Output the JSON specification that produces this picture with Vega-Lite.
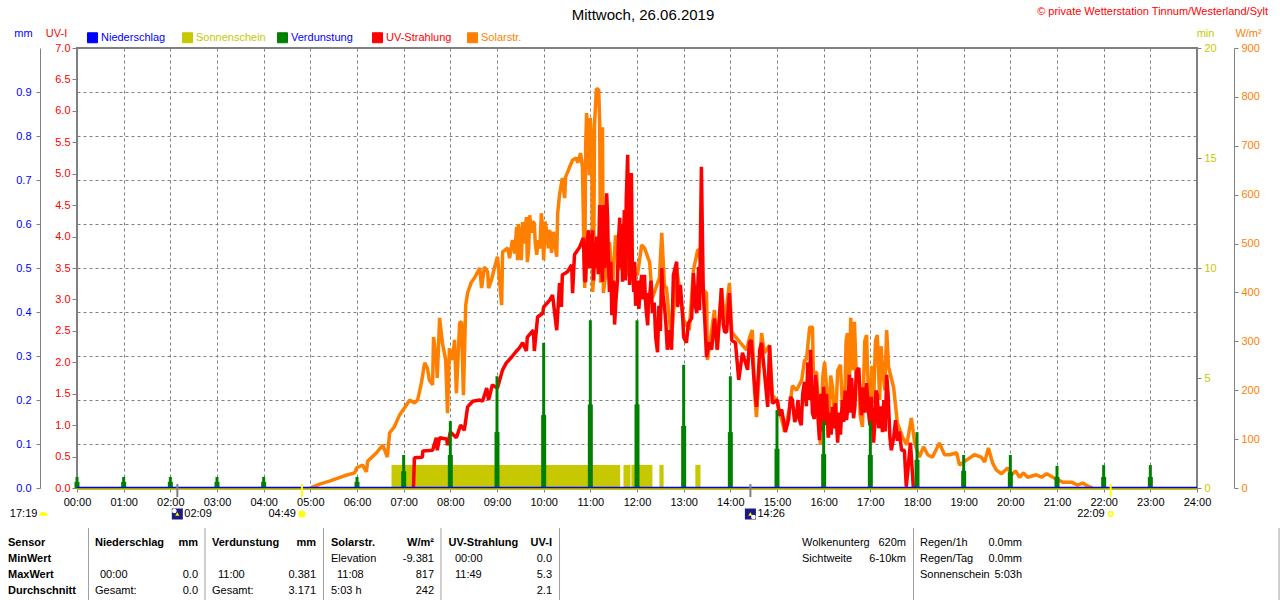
{
  "$schema": "https://vega.github.io/schema/vega-lite/v6.json",
  "autosize": "none",
  "width": 1120,
  "height": 440,
  "padding": {"left": 77, "top": 48, "right": 83, "bottom": 112},
  "background": "white",
  "title": {"text": "Mittwoch, 26.06.2019", "fontSize": 15, "fontWeight": "normal", "color": "#000000", "anchor": "middle", "frame": "group", "dx": 6, "offset": -17},
  "config": {
    "font": "Liberation Sans",
    "view": {"stroke": "#808080", "strokeWidth": 2},
    "axis": {"labelFontSize": 11, "titleFontSize": 11, "titleFontWeight": "normal", "tickColor": "#808080", "domainColor": "#808080", "gridColor": "#808080", "gridDash": [3, 3], "gridOpacity": 1, "labelFlush": false, "labelOverlap": false}
  },
  "datasets": {
    "solar": [
      {"h":5.00,"w":0},{"h":5.20,"w":8},{"h":5.41,"w":14},{"h":5.73,"w":25},{"h":5.95,"w":31},{"h":5.99,"w":41},{"h":6.12,"w":47},{"h":6.20,"w":33},{"h":6.23,"w":55},{"h":6.42,"w":72},{"h":6.55,"w":88},{"h":6.65,"w":63},{"h":6.70,"w":113},{"h":6.80,"w":125},{"h":6.91,"w":149},{"h":7.02,"w":164},{"h":7.13,"w":180},{"h":7.23,"w":174},{"h":7.30,"w":180},{"h":7.38,"w":215},{"h":7.45,"w":256},{"h":7.51,"w":245},{"h":7.55,"w":221},{"h":7.62,"w":211},{"h":7.64,"w":309},{"h":7.70,"w":262},{"h":7.72,"w":225},{"h":7.77,"w":348},{"h":7.83,"w":297},{"h":7.90,"w":262},{"h":7.94,"w":153},{"h":7.98,"w":286},{"h":8.05,"w":262},{"h":8.09,"w":303},{"h":8.13,"w":194},{"h":8.20,"w":338},{"h":8.24,"w":340},{"h":8.28,"w":190},{"h":8.33,"w":374},{"h":8.37,"w":399},{"h":8.45,"w":421},{"h":8.52,"w":430},{"h":8.63,"w":450},{"h":8.67,"w":409},{"h":8.73,"w":452},{"h":8.80,"w":442},{"h":8.82,"w":409},{"h":8.88,"w":425},{"h":8.95,"w":452},{"h":9.01,"w":473},{"h":9.10,"w":374},{"h":9.12,"w":483},{"h":9.23,"w":491},{"h":9.27,"w":470},{"h":9.33,"w":507},{"h":9.38,"w":480},{"h":9.42,"w":534},{"h":9.44,"w":466},{"h":9.46,"w":540},{"h":9.48,"w":522},{"h":9.52,"w":466},{"h":9.55,"w":544},{"h":9.58,"w":500},{"h":9.63,"w":554},{"h":9.65,"w":462},{"h":9.68,"w":490},{"h":9.70,"w":558},{"h":9.74,"w":522},{"h":9.76,"w":545},{"h":9.80,"w":542},{"h":9.82,"w":501},{"h":9.85,"w":477},{"h":9.89,"w":507},{"h":9.92,"w":490},{"h":9.95,"w":562},{"h":9.97,"w":540},{"h":10.00,"w":466},{"h":10.03,"w":545},{"h":10.06,"w":528},{"h":10.10,"w":490},{"h":10.13,"w":528},{"h":10.17,"w":481},{"h":10.21,"w":524},{"h":10.24,"w":500},{"h":10.28,"w":473},{"h":10.30,"w":562},{"h":10.34,"w":599},{"h":10.40,"w":634},{"h":10.45,"w":593},{"h":10.47,"w":636},{"h":10.55,"w":655},{"h":10.62,"w":671},{"h":10.70,"w":675},{"h":10.73,"w":665},{"h":10.79,"w":685},{"h":10.83,"w":657},{"h":10.88,"w":409},{"h":10.90,"w":700},{"h":10.92,"w":767},{"h":10.94,"w":716},{"h":10.98,"w":640},{"h":11.00,"w":757},{"h":11.03,"w":700},{"h":11.05,"w":401},{"h":11.07,"w":430},{"h":11.09,"w":743},{"h":11.13,"w":817},{"h":11.18,"w":814},{"h":11.20,"w":747},{"h":11.22,"w":420},{"h":11.24,"w":720},{"h":11.26,"w":738},{"h":11.28,"w":399},{"h":11.41,"w":503},{"h":11.48,"w":415},{"h":11.54,"w":517},{"h":11.63,"w":446},{"h":11.73,"w":528},{"h":11.80,"w":436},{"h":12.01,"w":436},{"h":12.10,"w":497},{"h":12.16,"w":491},{"h":12.27,"w":462},{"h":12.33,"w":389},{"h":12.48,"w":430},{"h":12.53,"w":522},{"h":12.59,"w":411},{"h":12.63,"w":411},{"h":12.70,"w":338},{"h":12.74,"w":303},{"h":12.85,"w":450},{"h":13.00,"w":344},{"h":13.12,"w":323},{"h":13.21,"w":446},{"h":13.30,"w":487},{"h":13.34,"w":487},{"h":13.42,"w":405},{"h":13.49,"w":399},{"h":13.51,"w":262},{"h":13.66,"w":364},{"h":13.72,"w":282},{"h":13.81,"w":409},{"h":13.88,"w":338},{"h":13.98,"w":419},{"h":14.03,"w":319},{"h":14.20,"w":299},{"h":14.35,"w":282},{"h":14.41,"w":307},{"h":14.47,"w":323},{"h":14.52,"w":194},{"h":14.56,"w":145},{"h":14.67,"w":317},{"h":14.73,"w":276},{"h":14.84,"w":292},{"h":14.90,"w":190},{"h":14.99,"w":180},{"h":15.12,"w":133},{"h":15.16,"w":115},{"h":15.27,"w":164},{"h":15.33,"w":209},{"h":15.42,"w":200},{"h":15.53,"w":221},{"h":15.59,"w":262},{"h":15.63,"w":262},{"h":15.70,"w":329},{"h":15.76,"w":329},{"h":15.78,"w":235},{"h":15.85,"w":237},{"h":15.93,"w":88},{"h":15.98,"w":227},{"h":16.02,"w":258},{"h":16.06,"w":207},{"h":16.10,"w":104},{"h":16.15,"w":230},{"h":16.19,"w":207},{"h":16.22,"w":165},{"h":16.25,"w":125},{"h":16.30,"w":240},{"h":16.36,"w":252},{"h":16.40,"w":170},{"h":16.45,"w":166},{"h":16.48,"w":300},{"h":16.51,"w":317},{"h":16.55,"w":200},{"h":16.58,"w":348},{"h":16.62,"w":241},{"h":16.66,"w":340},{"h":16.70,"w":227},{"h":16.75,"w":245},{"h":16.78,"w":150},{"h":16.83,"w":125},{"h":16.88,"w":300},{"h":16.92,"w":313},{"h":16.94,"w":241},{"h":16.97,"w":180},{"h":17.00,"w":139},{"h":17.03,"w":250},{"h":17.07,"w":174},{"h":17.11,"w":300},{"h":17.15,"w":313},{"h":17.20,"w":180},{"h":17.23,"w":290},{"h":17.26,"w":248},{"h":17.31,"w":200},{"h":17.35,"w":323},{"h":17.39,"w":248},{"h":17.50,"w":205},{"h":17.58,"w":133},{"h":17.69,"w":104},{"h":17.78,"w":88},{"h":17.88,"w":143},{"h":17.95,"w":92},{"h":18.05,"w":63},{"h":18.14,"w":84},{"h":18.23,"w":68},{"h":18.33,"w":63},{"h":18.48,"w":92},{"h":18.59,"w":68},{"h":18.70,"w":68},{"h":18.85,"w":72},{"h":18.91,"w":47},{"h":19.06,"w":57},{"h":19.23,"w":68},{"h":19.38,"w":63},{"h":19.45,"w":53},{"h":19.53,"w":82},{"h":19.62,"w":51},{"h":19.70,"w":37},{"h":19.81,"w":29},{"h":19.94,"w":41},{"h":20.03,"w":27},{"h":20.11,"w":35},{"h":20.20,"w":22},{"h":20.28,"w":31},{"h":20.37,"w":22},{"h":20.56,"w":27},{"h":20.67,"w":22},{"h":20.78,"w":29},{"h":20.95,"w":20},{"h":21.12,"w":12},{"h":21.31,"w":12},{"h":21.44,"w":6},{"h":21.55,"w":10},{"h":21.70,"w":2},{"h":21.76,"w":0}
    ],
    "uv": [
      {"h":7.21,"i":0},{"h":7.23,"i":0.48},{"h":7.40,"i":0.49},{"h":7.41,"i":0.59},{"h":7.62,"i":0.60},{"h":7.70,"i":0.80},{"h":7.72,"i":0.60},{"h":7.77,"i":0.80},{"h":7.92,"i":0.78},{"h":7.94,"i":0.68},{"h":8.00,"i":0.89},{"h":8.13,"i":0.80},{"h":8.22,"i":1.00},{"h":8.30,"i":0.92},{"h":8.37,"i":1.29},{"h":8.48,"i":1.38},{"h":8.63,"i":1.40},{"h":8.69,"i":1.38},{"h":8.78,"i":1.59},{"h":8.82,"i":1.40},{"h":8.90,"i":1.64},{"h":9.01,"i":1.59},{"h":9.12,"i":1.88},{"h":9.20,"i":1.99},{"h":9.31,"i":2.08},{"h":9.42,"i":2.18},{"h":9.48,"i":2.23},{"h":9.55,"i":2.31},{"h":9.63,"i":2.18},{"h":9.65,"i":2.40},{"h":9.78,"i":2.51},{"h":9.80,"i":2.18},{"h":9.87,"i":2.72},{"h":9.98,"i":2.78},{"h":10.00,"i":2.88},{"h":10.13,"i":2.99},{"h":10.19,"i":3.07},{"h":10.28,"i":2.51},{"h":10.34,"i":3.26},{"h":10.38,"i":2.88},{"h":10.40,"i":3.39},{"h":10.51,"i":3.44},{"h":10.60,"i":3.55},{"h":10.62,"i":3.10},{"h":10.66,"i":3.71},{"h":10.77,"i":3.83},{"h":10.85,"i":3.98},{"h":10.88,"i":3.30},{"h":10.90,"i":3.28},{"h":10.93,"i":3.90},{"h":10.96,"i":4.10},{"h":10.99,"i":3.50},{"h":11.01,"i":4.05},{"h":11.03,"i":3.60},{"h":11.05,"i":4.10},{"h":11.07,"i":3.30},{"h":11.09,"i":3.90},{"h":11.11,"i":3.50},{"h":11.14,"i":4.00},{"h":11.17,"i":3.40},{"h":11.20,"i":4.50},{"h":11.23,"i":3.70},{"h":11.26,"i":3.28},{"h":11.28,"i":4.50},{"h":11.31,"i":3.50},{"h":11.33,"i":4.30},{"h":11.35,"i":4.69},{"h":11.37,"i":4.30},{"h":11.39,"i":3.50},{"h":11.41,"i":3.12},{"h":11.44,"i":3.60},{"h":11.46,"i":2.75},{"h":11.48,"i":2.88},{"h":11.50,"i":3.30},{"h":11.52,"i":2.60},{"h":11.55,"i":3.00},{"h":11.58,"i":3.28},{"h":11.60,"i":3.90},{"h":11.63,"i":4.30},{"h":11.65,"i":3.50},{"h":11.67,"i":4.20},{"h":11.69,"i":3.28},{"h":11.71,"i":4.00},{"h":11.73,"i":4.42},{"h":11.75,"i":3.30},{"h":11.77,"i":4.60},{"h":11.80,"i":5.30},{"h":11.82,"i":4.20},{"h":11.84,"i":3.23},{"h":11.86,"i":4.30},{"h":11.88,"i":5.01},{"h":11.90,"i":3.60},{"h":11.93,"i":3.12},{"h":11.95,"i":3.60},{"h":11.97,"i":2.90},{"h":11.99,"i":3.02},{"h":12.02,"i":3.30},{"h":12.04,"i":2.85},{"h":12.07,"i":3.20},{"h":12.10,"i":3.39},{"h":12.13,"i":3.00},{"h":12.16,"i":3.39},{"h":12.18,"i":3.00},{"h":12.20,"i":2.80},{"h":12.23,"i":2.59},{"h":12.25,"i":3.10},{"h":12.27,"i":3.04},{"h":12.30,"i":3.30},{"h":12.33,"i":2.78},{"h":12.37,"i":2.95},{"h":12.40,"i":2.40},{"h":12.44,"i":2.16},{"h":12.47,"i":2.90},{"h":12.50,"i":2.50},{"h":12.53,"i":3.50},{"h":12.56,"i":3.05},{"h":12.59,"i":2.88},{"h":12.62,"i":2.60},{"h":12.65,"i":2.20},{"h":12.70,"i":2.51},{"h":12.74,"i":2.20},{"h":12.78,"i":3.39},{"h":12.85,"i":3.60},{"h":12.87,"i":2.88},{"h":12.93,"i":3.23},{"h":12.98,"i":2.70},{"h":13.00,"i":2.40},{"h":13.06,"i":2.31},{"h":13.10,"i":2.62},{"h":13.17,"i":2.70},{"h":13.21,"i":3.42},{"h":13.25,"i":2.90},{"h":13.28,"i":2.78},{"h":13.32,"i":3.52},{"h":13.34,"i":2.83},{"h":13.38,"i":5.11},{"h":13.42,"i":3.12},{"h":13.45,"i":2.70},{"h":13.49,"i":2.08},{"h":13.55,"i":2.32},{"h":13.60,"i":2.20},{"h":13.66,"i":2.70},{"h":13.72,"i":2.20},{"h":13.77,"i":2.75},{"h":13.81,"i":3.18},{"h":13.85,"i":2.60},{"h":13.88,"i":2.48},{"h":13.92,"i":2.48},{"h":13.98,"i":3.10},{"h":14.03,"i":2.35},{"h":14.11,"i":2.31},{"h":14.18,"i":1.72},{"h":14.26,"i":2.15},{"h":14.37,"i":1.88},{"h":14.41,"i":2.32},{"h":14.45,"i":2.35},{"h":14.50,"i":1.80},{"h":14.56,"i":1.29},{"h":14.63,"i":2.20},{"h":14.67,"i":2.31},{"h":14.73,"i":1.85},{"h":14.80,"i":1.29},{"h":14.84,"i":2.27},{"h":14.90,"i":1.35},{"h":15.01,"i":1.40},{"h":15.05,"i":1.15},{"h":15.10,"i":1.25},{"h":15.18,"i":0.89},{"h":15.25,"i":1.10},{"h":15.29,"i":1.45},{"h":15.33,"i":1.40},{"h":15.38,"i":1.05},{"h":15.42,"i":1.16},{"h":15.45,"i":1.40},{"h":15.48,"i":1.08},{"h":15.52,"i":1.00},{"h":15.55,"i":1.50},{"h":15.59,"i":1.69},{"h":15.63,"i":1.30},{"h":15.66,"i":2.00},{"h":15.69,"i":1.40},{"h":15.72,"i":2.20},{"h":15.74,"i":1.60},{"h":15.76,"i":1.19},{"h":15.80,"i":1.10},{"h":15.82,"i":1.80},{"h":15.85,"i":1.61},{"h":15.88,"i":1.10},{"h":15.91,"i":0.76},{"h":15.94,"i":1.50},{"h":15.97,"i":0.90},{"h":16.00,"i":1.61},{"h":16.03,"i":1.00},{"h":16.06,"i":1.50},{"h":16.10,"i":0.80},{"h":16.13,"i":1.20},{"h":16.16,"i":0.85},{"h":16.19,"i":1.29},{"h":16.22,"i":0.95},{"h":16.25,"i":1.35},{"h":16.30,"i":0.72},{"h":16.33,"i":1.20},{"h":16.36,"i":0.85},{"h":16.40,"i":1.40},{"h":16.43,"i":1.05},{"h":16.46,"i":1.55},{"h":16.49,"i":1.08},{"h":16.52,"i":1.30},{"h":16.55,"i":1.80},{"h":16.58,"i":1.20},{"h":16.60,"i":1.75},{"h":16.64,"i":1.11},{"h":16.67,"i":1.30},{"h":16.70,"i":1.85},{"h":16.75,"i":1.91},{"h":16.78,"i":1.50},{"h":16.81,"i":1.16},{"h":16.84,"i":1.60},{"h":16.88,"i":1.20},{"h":16.92,"i":1.67},{"h":16.96,"i":1.21},{"h":16.99,"i":1.00},{"h":17.02,"i":1.45},{"h":17.07,"i":0.72},{"h":17.10,"i":1.05},{"h":17.12,"i":1.55},{"h":17.15,"i":1.48},{"h":17.18,"i":0.95},{"h":17.22,"i":1.30},{"h":17.26,"i":0.89},{"h":17.29,"i":1.40},{"h":17.32,"i":0.90},{"h":17.35,"i":1.80},{"h":17.38,"i":1.50},{"h":17.42,"i":0.80},{"h":17.45,"i":0.60},{"h":17.50,"i":0.80},{"h":17.54,"i":1.08},{"h":17.58,"i":0.75},{"h":17.62,"i":0.90},{"h":17.67,"i":0.60},{"h":17.73,"i":0.60},{"h":17.77,"i":0.02},{"h":17.86,"i":0.72},{"h":17.92,"i":0.02},{"h":17.97,"i":0}
    ],
    "verdunstung": [
      {"h":0,"mm":0.025,"art":"spitze"},{"h":0,"mm":0.014,"art":"sockel"},{"h":1,"mm":0.025,"art":"spitze"},{"h":1,"mm":0.014,"art":"sockel"},{"h":2,"mm":0.025,"art":"spitze"},{"h":2,"mm":0.014,"art":"sockel"},{"h":3,"mm":0.025,"art":"spitze"},{"h":3,"mm":0.014,"art":"sockel"},{"h":4,"mm":0.025,"art":"spitze"},{"h":4,"mm":0.014,"art":"sockel"},{"h":6,"mm":0.025,"art":"spitze"},{"h":6,"mm":0.014,"art":"sockel"},{"h":7,"mm":0.075,"art":"spitze"},{"h":7,"mm":0.038,"art":"sockel"},{"h":8,"mm":0.152,"art":"spitze"},{"h":8,"mm":0.075,"art":"sockel"},{"h":9,"mm":0.254,"art":"spitze"},{"h":9,"mm":0.127,"art":"sockel"},{"h":10,"mm":0.33,"art":"spitze"},{"h":10,"mm":0.166,"art":"sockel"},{"h":11,"mm":0.381,"art":"spitze"},{"h":11,"mm":0.19,"art":"sockel"},{"h":12,"mm":0.381,"art":"spitze"},{"h":12,"mm":0.19,"art":"sockel"},{"h":13,"mm":0.28,"art":"spitze"},{"h":13,"mm":0.141,"art":"sockel"},{"h":14,"mm":0.254,"art":"spitze"},{"h":14,"mm":0.127,"art":"sockel"},{"h":15,"mm":0.177,"art":"spitze"},{"h":15,"mm":0.089,"art":"sockel"},{"h":16,"mm":0.152,"art":"spitze"},{"h":16,"mm":0.077,"art":"sockel"},{"h":17,"mm":0.152,"art":"spitze"},{"h":17,"mm":0.075,"art":"sockel"},{"h":18,"mm":0.127,"art":"spitze"},{"h":18,"mm":0.064,"art":"sockel"},{"h":19,"mm":0.075,"art":"spitze"},{"h":19,"mm":0.039,"art":"sockel"},{"h":20,"mm":0.075,"art":"spitze"},{"h":20,"mm":0.036,"art":"sockel"},{"h":21,"mm":0.05,"art":"spitze"},{"h":21,"mm":0.025,"art":"sockel"},{"h":22,"mm":0.052,"art":"spitze"},{"h":22,"mm":0.025,"art":"sockel"},{"h":23,"mm":0.052,"art":"spitze"},{"h":23,"mm":0.025,"art":"sockel"}
    ],
    "sonne": [
      {"von":6.74,"bis":11.64,"min":1.05},{"von":11.71,"bis":11.86,"min":1.05},{"von":11.88,"bis":12.33,"min":1.05},{"von":12.48,"bis":12.57,"min":1.05},{"von":13.25,"bis":13.36,"min":1.05}
    ],
    "astro": [
      {"h":-0.72,"zeit":"17:19","typ":"Tag"},{"h":2.15,"zeit":"02:09","typ":"Mond"},{"h":4.82,"zeit":"04:49","typ":"Aufgang"},{"h":14.43,"zeit":"14:26","typ":"Mond"},{"h":22.15,"zeit":"22:09","typ":"Untergang"}
    ],
    "tabelle": [
      {"col":17,"row":0,"text":"© private Wetterstation Tinnum/Westerland/Sylt"},
      {"col":0,"row":1,"text":"Sensor"},{"col":1,"row":1,"text":"Niederschlag"},{"col":3,"row":1,"text":"mm"},{"col":4,"row":1,"text":"Verdunstung"},{"col":6,"row":1,"text":"mm"},{"col":7,"row":1,"text":"Solarstr."},{"col":9,"row":1,"text":"W/m²"},{"col":10,"row":1,"text":"UV-Strahlung"},{"col":12,"row":1,"text":"UV-I"},{"col":13,"row":1,"text":"Wolkenunterg"},{"col":14,"row":1,"text":"620m"},{"col":15,"row":1,"text":"Regen/1h"},{"col":16,"row":1,"text":"0.0mm"},
      {"col":0,"row":2,"text":"MinWert"},{"col":7,"row":2,"text":"Elevation"},{"col":9,"row":2,"text":"-9.381"},{"col":11,"row":2,"text":"00:00"},{"col":12,"row":2,"text":"0.0"},{"col":13,"row":2,"text":"Sichtweite"},{"col":14,"row":2,"text":"6-10km"},{"col":15,"row":2,"text":"Regen/Tag"},{"col":16,"row":2,"text":"0.0mm"},
      {"col":0,"row":3,"text":"MaxWert"},{"col":2,"row":3,"text":"00:00"},{"col":3,"row":3,"text":"0.0"},{"col":5,"row":3,"text":"11:00"},{"col":6,"row":3,"text":"0.381"},{"col":8,"row":3,"text":"11:08"},{"col":9,"row":3,"text":"817"},{"col":11,"row":3,"text":"11:49"},{"col":12,"row":3,"text":"5.3"},{"col":15,"row":3,"text":"Sonnenschein"},{"col":16,"row":3,"text":"5:03h"},
      {"col":0,"row":4,"text":"Durchschnitt"},{"col":1,"row":4,"text":"Gesamt:"},{"col":3,"row":4,"text":"0.0"},{"col":4,"row":4,"text":"Gesamt:"},{"col":6,"row":4,"text":"3.171"},{"col":7,"row":4,"text":"5:03 h"},{"col":9,"row":4,"text":"242"},{"col":12,"row":4,"text":"2.1"}
    ],
    "trenner": [{"nr":1},{"nr":2},{"nr":3},{"nr":4},{"nr":5},{"nr":6},{"nr":7}]
  },
  "resolve": {"scale": {"x": "independent", "y": "independent"}},
  "layer": [
    {
      "data": {"name": "sonne"},
      "mark": {"type": "bar"},
      "encoding": {
        "x": {"field": "von", "type": "quantitative", "title": null, "scale": {"domain": [0, 24], "nice": false},
          "axis": {"values": [0,1,2,3,4,5,6,7,8,9,10,11,12,13,14,15,16,17,18,19,20,21,22,23,24], "labelExpr": "(datum.value<10?'0':'')+datum.value+':00'", "grid": true, "domain": false, "tickSize": 4, "labelPadding": 4, "labelColor": "#000000"}},
        "x2": {"field": "bis"},
        "y": {"field": "min", "type": "quantitative", "scale": {"domain": [0, 20], "nice": false},
          "axis": {"orient": "right", "values": [0,5,10,15,20], "title": "min", "titleX": 8, "titleY": -10, "titleAngle": 0, "titleColor": "#c8c800", "labelColor": "#c8c800", "domain": false, "grid": false, "tickSize": 4, "labelPadding": 3}},
        "y2": {"datum": 0},
        "color": {"datum": "Sonnenschein",
          "scale": {"domain": ["Niederschlag","Sonnenschein","Verdunstung","UV-Strahlung","Solarstr."], "range": ["#0000ff","#c8c800","#008000","#ff0000","#ff8000"]},
          "legend": {"title": null, "orient": "none", "legendX": 10, "legendY": -16, "direction": "horizontal", "columns": 5, "gridAlign": "all", "columnPadding": 9, "padding": 0, "symbolType": "square", "symbolSize": 100, "labelOffset": 3, "labelFontSize": 11,
            "encode": {"labels": {"update": {"fill": {"signal": "datum.label=='Niederschlag'||datum.label=='Verdunstung'?'#0000ff':datum.label=='Sonnenschein'?'#c8c800':datum.label=='UV-Strahlung'?'#ff0000':'#ff8000'"}}},
              "symbols": {"update": {"fill": {"scale": "color", "field": "value"}, "stroke": {"value": "#000000"}, "strokeWidth": {"value": 1}, "opacity": {"value": 1}}}}}}
      }
    },
    {
      "data": {"name": "solar"},
      "mark": {"type": "line", "strokeWidth": 3.5, "strokeJoin": "bevel"},
      "encoding": {
        "x": {"field": "h", "type": "quantitative", "scale": {"domain": [0, 24], "nice": false}, "axis": null},
        "y": {"field": "w", "type": "quantitative", "scale": {"domain": [0, 900], "nice": false},
          "axis": {"orient": "right", "offset": 37, "values": [0,100,200,300,400,500,600,700,800,900], "title": "W/m²", "titleX": 14, "titleY": -10, "titleAngle": 0, "titleColor": "#ff8000", "labelColor": "#ff8000", "grid": false, "tickSize": 4, "labelPadding": 3}},
        "color": {"datum": "Solarstr.", "legend": null}
      }
    },
    {
      "data": {"name": "uv"},
      "mark": {"type": "line", "strokeWidth": 3.5, "strokeJoin": "bevel"},
      "encoding": {
        "x": {"field": "h", "type": "quantitative", "scale": {"domain": [0, 24], "nice": false}, "axis": null},
        "y": {"field": "i", "type": "quantitative", "scale": {"domain": [0, 7], "nice": false},
          "axis": {"orient": "left", "values": [0,0.5,1,1.5,2,2.5,3,3.5,4,4.5,5,5.5,6,6.5,7], "format": ".1f", "title": "UV-I", "titleX": -21, "titleY": -10, "titleAngle": 0, "titleColor": "#ff0000", "labelColor": "#ff0000", "domain": false, "grid": false, "tickSize": 5, "labelPadding": 2}},
        "color": {"datum": "UV-Strahlung", "legend": null}
      }
    },
    {
      "data": {"name": "verdunstung"},
      "mark": {"type": "bar", "orient": "vertical"},
      "encoding": {
        "x": {"field": "h", "type": "quantitative", "scale": {"domain": [0, 24], "nice": false, "padding": 0}, "axis": null},
        "y": {"field": "mm", "type": "quantitative", "stack": null, "scale": {"domain": [0, 1], "nice": false},
          "axis": {"orient": "left", "offset": 37, "values": [0,0.1,0.2,0.3,0.4,0.5,0.6,0.7,0.8,0.9], "format": ".1f", "title": "mm", "titleX": -17, "titleY": -10, "titleAngle": 0, "titleColor": "#0000ff", "labelColor": "#0000ff", "grid": true, "tickSize": 4, "labelPadding": 5}},
        "size": {"field": "art", "type": "nominal", "scale": {"domain": ["spitze", "sockel"], "range": [3, 5]}, "legend": null},
        "color": {"datum": "Verdunstung", "legend": null}
      }
    },
    {
      "data": {"values": [{"h": 0, "min": 0}, {"h": 24, "min": 0}]},
      "mark": {"type": "line", "strokeWidth": 2, "yOffset": 1},
      "encoding": {
        "x": {"field": "h", "type": "quantitative", "scale": {"domain": [0, 24], "nice": false}, "axis": null},
        "y": {"field": "min", "type": "quantitative", "scale": {"domain": [0, 20], "nice": false}, "axis": null},
        "color": {"datum": "Sonnenschein", "legend": null}
      }
    },
    {
      "data": {"values": [{"h": 0, "mm": 0}, {"h": 24, "mm": 0}]},
      "mark": {"type": "line", "strokeWidth": 1.5, "yOffset": -0.5},
      "encoding": {
        "x": {"field": "h", "type": "quantitative", "scale": {"domain": [0, 24], "nice": false}, "axis": null},
        "y": {"field": "mm", "type": "quantitative", "scale": {"domain": [0, 1], "nice": false}, "axis": null},
        "color": {"datum": "Niederschlag", "legend": null}
      }
    },
    {
      "data": {"name": "astro"},
      "transform": [{"filter": "datum.h>=0"}],
      "mark": {"type": "rule", "strokeWidth": 2, "stroke": {"expr": "datum.typ=='Mond'?'#808080':'#ffff00'"}},
      "encoding": {
        "x": {"field": "h", "type": "quantitative", "scale": {"domain": [0, 24], "nice": false}, "axis": null},
        "y": {"value": 436},
        "y2": {"value": 449}
      }
    },
    {
      "data": {"name": "astro"},
      "mark": {"type": "text", "fontSize": 11, "fill": "#000000", "baseline": "middle", "align": {"expr": "datum.typ=='Mond'?'left':'right'"}, "dx": {"expr": "datum.typ=='Mond'?7:-6"}},
      "encoding": {
        "x": {"field": "h", "type": "quantitative", "scale": {"domain": [0, 24], "nice": false}, "axis": null},
        "y": {"value": 466},
        "text": {"field": "zeit"}
      }
    },
    {
      "data": {"name": "astro"},
      "transform": [{"filter": "datum.typ=='Mond'"}],
      "mark": {"type": "point", "filled": true, "shape": "square", "size": 121, "fill": "#1a1a80", "opacity": 1},
      "encoding": {
        "x": {"field": "h", "type": "quantitative", "scale": {"domain": [0, 24], "nice": false}, "axis": null},
        "y": {"value": 466}
      }
    },
    {
      "data": {"name": "astro"},
      "transform": [{"filter": "datum.typ=='Mond'"}],
      "mark": {"type": "point", "filled": true, "shape": "circle", "size": 22, "fill": "#ffffff", "opacity": 1, "xOffset": {"expr": "datum.h<5?-3:3"}, "yOffset": {"expr": "datum.h<5?-3:3"}},
      "encoding": {
        "x": {"field": "h", "type": "quantitative", "scale": {"domain": [0, 24], "nice": false}, "axis": null},
        "y": {"value": 466}
      }
    },
    {
      "data": {"name": "astro"},
      "transform": [{"filter": "datum.typ=='Mond'"}],
      "mark": {"type": "point", "filled": true, "shape": "triangle-up", "size": 18, "fill": "#ffff00", "opacity": 1},
      "encoding": {
        "x": {"field": "h", "type": "quantitative", "scale": {"domain": [0, 24], "nice": false}, "axis": null},
        "y": {"value": 466}
      }
    },
    {
      "data": {"name": "astro"},
      "transform": [{"filter": "datum.typ=='Aufgang'"}],
      "mark": {"type": "point", "filled": true, "shape": "circle", "size": 50, "fill": "#ffff00", "opacity": 1},
      "encoding": {
        "x": {"field": "h", "type": "quantitative", "scale": {"domain": [0, 24], "nice": false}, "axis": null},
        "y": {"value": 466}
      }
    },
    {
      "data": {"name": "astro"},
      "transform": [{"filter": "datum.typ=='Untergang'"}],
      "mark": {"type": "point", "shape": "circle", "size": 22, "stroke": "#ffff00", "strokeWidth": 1.5, "opacity": 1},
      "encoding": {
        "x": {"field": "h", "type": "quantitative", "scale": {"domain": [0, 24], "nice": false}, "axis": null},
        "y": {"value": 466}
      }
    },
    {
      "data": {"name": "astro"},
      "transform": [{"filter": "datum.typ=='Tag'"}],
      "mark": {"type": "point", "filled": true, "shape": "M-1,0.4A1,0.9 0 0 1 1,0.4Z", "size": 70, "fill": "#ffff00", "opacity": 1},
      "encoding": {
        "x": {"field": "h", "type": "quantitative", "scale": {"domain": [0, 24], "nice": false}, "axis": null},
        "y": {"value": 466}
      }
    },
    {
      "data": {"name": "trenner"},
      "mark": {"type": "rule", "stroke": "#a0a0a0", "strokeWidth": 1},
      "encoding": {
        "x": {"field": "nr", "type": "quantitative", "axis": null, "scale": {"domain": [1,2,3,4,5,6,7], "range": [11.5,128,246.5,364,482.5,836.5,1202], "nice": false, "zero": false}},
        "y": {"value": 480},
        "y2": {"value": 552}
      }
    },
    {
      "data": {"name": "tabelle"},
      "mark": {"type": "text", "fontSize": 11, "baseline": "middle",
        "align": {"expr": "indexof([3,6,9,12,14,16,17],datum.col)>=0?'right':'left'"},
        "fontWeight": {"expr": "datum.col==0||(datum.row==1&&datum.col<=12)?'bold':'normal'"},
        "fill": {"expr": "datum.row==0?'#ff0000':'#000000'"}},
      "encoding": {
        "x": {"field": "col", "type": "quantitative", "axis": null, "scale": {"domain": [0,1,2,3,4,5,6,7,8,9,10,11,12,13,14,15,16,17], "range": [-69,18,23,121,135,141,239,254,260,357,371.5,378,475,725,829,843,945,1191], "nice": false, "zero": false}},
        "y": {"field": "row", "type": "quantitative", "axis": null, "scale": {"domain": [0,1,4], "range": [-36,494.5,542.5], "nice": false, "zero": false}},
        "text": {"field": "text"}
      }
    }
  ]
}
